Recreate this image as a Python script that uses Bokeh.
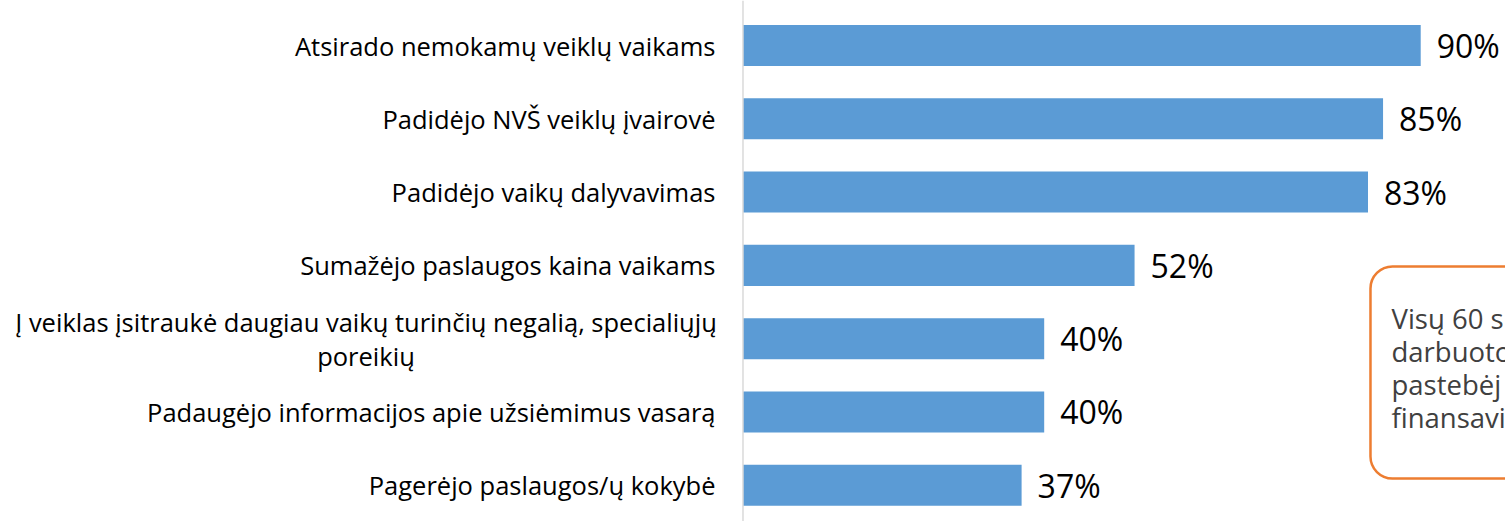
from bokeh.plotting import figure
from bokeh.models import ColumnDataSource, Range1d, Span, BoxAnnotation, Label
from bokeh.core.properties import value
from bokeh.embed import file_html
from bokeh.resources import INLINE

categories = [
    "Atsirado nemokamų veiklų vaikams",
    "Padidėjo NVŠ veiklų įvairovė",
    "Padidėjo vaikų dalyvavimas",
    "Sumažėjo paslaugos kaina vaikams",
    "Į veiklas įsitraukė daugiau vaikų turinčių negalią, specialiųjų\nporeikių",
    "Padaugėjo informacijos apie užsiėmimus vasarą",
    "Pagerėjo paslaugos/ų kokybė",
]
values = [90, 85, 83, 52, 40, 40, 37]
callout_lines = ["Visų 60 s", "darbuoto", "pastebėj", "finansavi"]

FONT = "Open Sans"
W, H = 1505, 521

ypos = list(range(len(categories)))
multi = ["\n" in c for c in categories]
src = ColumnDataSource(dict(
    y=ypos,
    v=values,
    zero=[0] * len(values),
    cat=categories,
    pct=[f"{v}%" for v in values],
    align=["center" if m else "right" for m in multi],
    xoff=[-377 if m else -27.5 for m in multi],
))

p = figure(width=W, height=H, output_backend="svg", toolbar_location=None,
           x_range=Range1d(-98.6, 101.26), y_range=Range1d(6.494, -0.614),
           min_border=0, x_axis_location=None, y_axis_location=None)
p.outline_line_color = None
p.xgrid.visible = False
p.ygrid.visible = False
p.background_fill_color = "white"
p.border_fill_color = "white"

p.hbar(y="y", left="zero", right="v", height=0.56, source=src,
       fill_color="#5B9BD5", line_color=None)

p.add_layout(Span(location=0, dimension="height", line_color="#D9D9D9", line_width=1.5))

p.text(x="zero", y="y", text="cat", source=src, text_align="align", x_offset="xoff",
       text_baseline="middle", text_font=value(FONT), text_font_size="25.5px",
       text_color="#000000", text_line_height=1.0)

p.text(x="v", y="y", text="pct", source=src, x_offset=16,
       text_baseline="middle", text_font=value(FONT), text_font_size="32px",
       text_color="#000000")

p.add_layout(BoxAnnotation(left=83.33, right=130, top=3.015, bottom=5.907,
                           fill_color="white", fill_alpha=1.0,
                           line_color="#ED7D31", line_alpha=1.0, line_width=2.5,
                           border_radius=22, level="overlay"))
for i, t in enumerate(callout_lines):
    p.add_layout(Label(x=86.12, y=3.72 + 0.45 * i, text=t, text_font=FONT,
                       text_font_size="27.5px", text_color="#404040",
                       text_baseline="alphabetic", level="overlay"))

open("out.html", "w").write(file_html(p, INLINE))
